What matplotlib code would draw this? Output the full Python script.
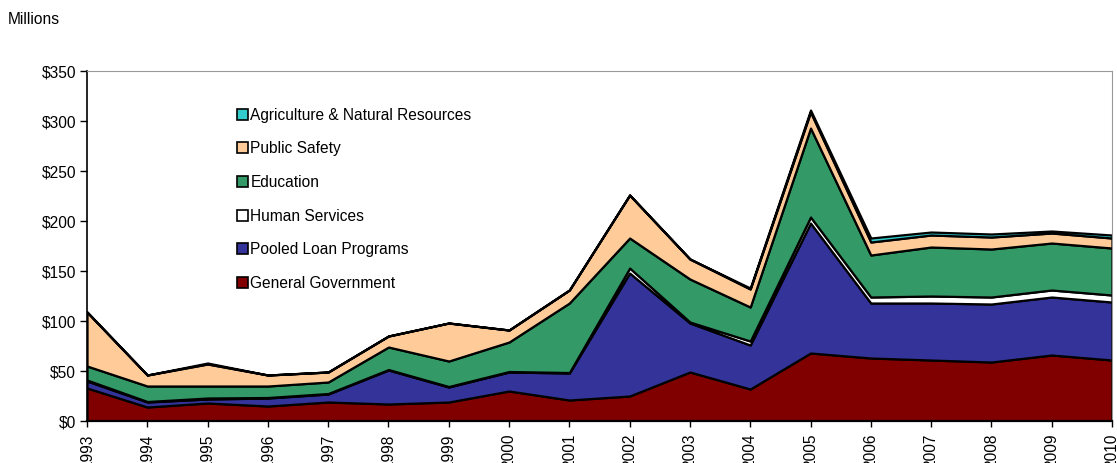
import matplotlib.pyplot as plt
from matplotlib.patches import Patch

plt.rcParams['font.family'] = ['Liberation Sans', 'DejaVu Sans']

years = list(range(1993, 2011))

# debt issued by program area, $ millions
general_gov = [33, 14, 18, 15, 19, 17, 19, 30, 21, 25, 49, 32, 68, 63, 61, 59, 66, 61]
pooled_loan = [7, 5, 4, 8, 8, 34, 15, 19, 27, 123, 49, 44, 130, 55, 57, 58, 58, 58]
human_serv = [1, 0.5, 1, 0.5, 0.5, 0.5, 0.5, 0.5, 0.5, 5, 1, 4, 6, 6, 7, 7, 7, 7]
education = [14, 15.5, 12, 11.5, 11.5, 22.5, 25.5, 29.5, 69.5, 30, 43, 34, 89, 42, 49, 48, 47, 47]
public_safety = [54, 11, 22, 11, 10, 11, 38, 12, 13, 43, 20, 18, 16, 13, 12, 12, 10, 10]
agriculture = [0, 0, 1, 0, 0, 0, 0, 0, 0, 0, 0, 1, 2, 4, 3, 3, 2, 3]

labels = ['General Government', 'Pooled Loan Programs', 'Human Services',
          'Education', 'Public Safety', 'Agriculture & Natural Resources']
colors = ['#800000', '#333399', '#ffffff', '#339966', '#ffcc99', '#33cccc']
yticks = [0, 50, 100, 150, 200, 250, 300, 350]

fs = 11.2

fig = plt.figure(figsize=(11.17, 4.63), dpi=100)
ax = fig.add_axes([0.0779, 0.0907, 0.9176, 0.7559])

ax.stackplot(years, general_gov, pooled_loan, human_serv, education,
             public_safety, agriculture, colors=colors,
             edgecolor='black', linewidth=1.6)

ax.set_xlim(1993, 2010)
ax.set_ylim(0, 350)
ax.set_yticks(yticks)
ax.set_yticklabels(['$%d' % v for v in yticks], fontsize=fs)
ax.set_xticks(years)
ax.set_xticklabels([str(y) for y in years], rotation=90, fontsize=fs)
ax.tick_params(axis='y', direction='out', length=5, width=1, pad=3)
ax.tick_params(axis='x', direction='out', length=4, width=1, pad=5)

ax.spines['left'].set_linewidth(1.2)
ax.spines['bottom'].set_linewidth(1.6)
ax.spines['top'].set_color('#999999')
ax.spines['right'].set_color('#999999')

handles = [Patch(facecolor=c, edgecolor='black', linewidth=1.2, label=l)
           for c, l in zip(colors, labels)]
ax.legend(handles[::-1], labels[::-1], loc='upper left',
          bbox_to_anchor=(0.1403, 0.913), frameon=False, fontsize=fs,
          handlelength=0.7, handleheight=0.7, handletextpad=0.15,
          labelspacing=1.2, borderaxespad=0)

fig.text(0.007, 0.957, 'Millions', fontsize=fs, ha='left', va='center')

fig.savefig('out.png', dpi=100)
